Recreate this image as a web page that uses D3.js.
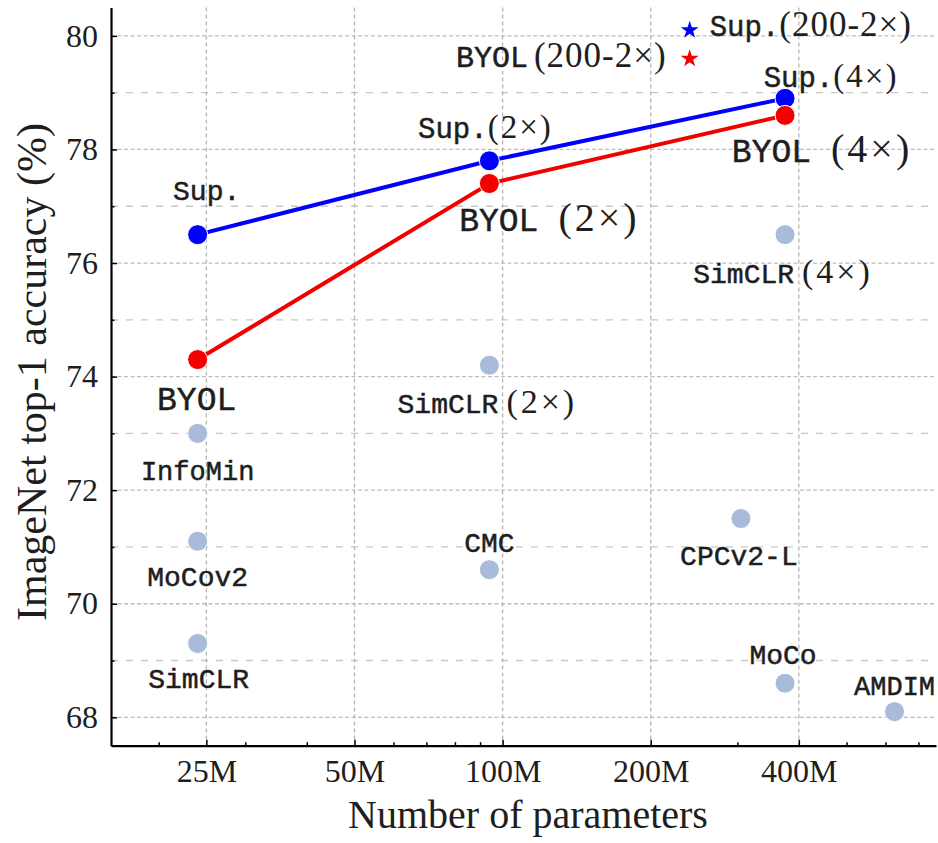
<!DOCTYPE html>
<html>
<head>
<meta charset="utf-8">
<script src="https://cdn.jsdelivr.net/npm/d3@7"></script>
<style>
  html, body { margin: 0; padding: 0; background: #fff; }
  svg { display: block; }
</style>
</head>
<body>
<svg id="chart" width="938" height="843"></svg>
<script>
// ImageNet top-1 accuracy against model size (parameters in millions)

const xTickValues = [25, 50, 100, 200, 400];
const xTickLabels = ["25M", "50M", "100M", "200M", "400M"];
const xMinorTicks = [20, 30, 40, 60, 70, 80, 90, 300, 500, 600, 700];
const yTickValues = [68, 70, 72, 74, 76, 78, 80];
const yMinorTicks = [69, 71, 73, 75, 77, 79];

// Supervised baseline (ResNet-50 1x, 2x, 4x)
const supNames = ["Sup.", "Sup.(2×)", "Sup.(4×)"];
const supParams = [24, 94, 375];
const supAcc = [76.5, 77.8, 78.9];

// BYOL (ResNet-50 1x, 2x, 4x)
const byolNames = ["BYOL", "BYOL (2×)", "BYOL (4×)"];
const byolParams = [24, 94, 375];
const byolAcc = [74.3, 77.4, 78.6];

// Other self-supervised methods
const otherNames = ["SimCLR (4×)", "SimCLR (2×)", "InfoMin", "MoCov2", "SimCLR", "CMC", "CPCv2-L", "MoCo", "AMDIM"];
const otherParams = [375, 94, 24, 24, 24, 94, 305, 375, 626];
const otherAcc = [76.5, 74.2, 73.0, 71.1, 69.3, 70.6, 71.5, 68.6, 68.1];

// ResNet-200 (2x) results, drawn as stars
const wideNames = ["Sup.(200-2×)", "BYOL (200-2×)"];
const wideParams = [240, 240];
const wideAcc = [80.1, 79.6];

// ---- styling / layout ----
const SERIF = "'Liberation Serif', 'Times New Roman', serif";
const MONO = "'Liberation Mono', 'Courier New', monospace";
const BLUE = "#0000ff", RED = "#f20000", GREY = "#a8bcd9";
const TEXT = "#1e1e1e";

// label placement relative to its marker (pixels) and font sizes
const labelLayout = {
  "Sup.":          { dx: 9,   dy: -35, mono: 28 },
  "Sup.(2×)":      { dx: -4,  dy: -23, mono: 29, serif: 33, ls: 2, gap: 0 },
  "Sup.(4×)":      { dx: 46,  dy: -11, mono: 29, serif: 33, ls: 2, gap: 0 },
  "BYOL":          { dx: -1,  dy: 50,  mono: 33 },
  "BYOL (2×)":     { dx: 60,  dy: 47,  mono: 33, serif: 40, ls: 3, gap: 20 },
  "BYOL (4×)":     { dx: 37,  dy: 47,  mono: 33, serif: 40, ls: 3, gap: 20 },
  "SimCLR (4×)":   { dx: -2,  dy: 48,  mono: 28, serif: 34, ls: 3, gap: 8 },
  "SimCLR (2×)":   { dx: -2,  dy: 48,  mono: 28, serif: 34, ls: 3, gap: 8 },
  "InfoMin":       { dx: 0,   dy: 47,  mono: 27 },
  "MoCov2":        { dx: 0,   dy: 45,  mono: 28 },
  "SimCLR":        { dx: 1,   dy: 45,  mono: 28 },
  "CMC":           { dx: 0,   dy: -18, mono: 28 },
  "CPCv2-L":       { dx: -2,  dy: 46,  mono: 28 },
  "MoCo":          { dx: -2,  dy: -19, mono: 28 },
  "AMDIM":         { dx: 0,   dy: -17, mono: 27 },
  "Sup.(200-2×)":  { dx: 20,  dy: 6,   mono: 29, serif: 35, ls: 1, gap: 0, anchor: "start" },
  "BYOL (200-2×)": { dx: -23, dy: 8,   mono: 30, serif: 35, ls: 1, gap: 6, anchor: "end" }
};

const svg = d3.select("#chart");
const plot = { left: 111, right: 936, top: 7.5, bottom: 745.7 };

const x = d3.scaleLog().domain([16, 760]).range([plot.left, plot.right]);
const y = d3.scaleLinear().domain([67.5, 80.5]).range([plot.bottom, plot.top]);

// ---- grid ----
const grid = svg.append("g");
grid.selectAll(".hmajor").data(yTickValues).join("line")
  .attr("x1", plot.left).attr("x2", plot.right)
  .attr("y1", d => y(d)).attr("y2", d => y(d))
  .attr("stroke", "#bdbdbd").attr("stroke-width", 1.3)
  .attr("stroke-dasharray", "4,2.5");
grid.selectAll(".hminor").data(yMinorTicks).join("line")
  .attr("x1", plot.left).attr("x2", plot.right)
  .attr("y1", d => y(d)).attr("y2", d => y(d))
  .attr("stroke", "#c8c8c8").attr("stroke-width", 1.3)
  .attr("stroke-dasharray", "7,8");
grid.selectAll(".vmajor").data(xTickValues).join("line")
  .attr("x1", d => x(d)).attr("x2", d => x(d))
  .attr("y1", plot.top).attr("y2", plot.bottom)
  .attr("stroke", "#b5b5b5").attr("stroke-width", 1.3)
  .attr("stroke-dasharray", "4,3");

// ---- axes ----
function styleAxis(g) {
  g.selectAll(".domain").attr("stroke", "#000").attr("stroke-width", 2.2);
  g.selectAll(".tick line").attr("stroke", "#000").attr("stroke-width", 1.5);
  g.selectAll(".tick text").attr("font-family", SERIF).attr("font-size", 32).attr("fill", TEXT);
}

const yAxis = svg.append("g").attr("transform", `translate(${plot.left},0)`)
  .call(d3.axisLeft(y).tickValues(yTickValues).tickSizeInner(-6).tickSizeOuter(0).tickPadding(13));
styleAxis(yAxis);
const yMinor = svg.append("g").attr("transform", `translate(${plot.left},0)`)
  .call(d3.axisLeft(y).tickValues(yMinorTicks).tickSizeInner(-3.5).tickSizeOuter(0).tickFormat(""));
yMinor.select(".domain").remove();
styleAxis(yMinor);

const xAxis = svg.append("g").attr("transform", `translate(0,${plot.bottom})`)
  .call(d3.axisBottom(x).tickValues(xTickValues).tickFormat((d, i) => xTickLabels[i])
    .tickSizeInner(-6).tickSizeOuter(0).tickPadding(14));
styleAxis(xAxis);
const xMinor = svg.append("g").attr("transform", `translate(0,${plot.bottom})`)
  .call(d3.axisBottom(x).tickValues(xMinorTicks).tickSizeInner(-3.5).tickSizeOuter(0).tickFormat(""));
xMinor.select(".domain").remove();
styleAxis(xMinor);

// axis titles
svg.append("text")
  .attr("x", 528).attr("y", 828)
  .attr("text-anchor", "middle")
  .attr("font-family", SERIF).attr("font-size", 40).attr("fill", TEXT)
  .text("Number of parameters");
svg.append("text")
  .attr("transform", "translate(46,372) rotate(-90)")
  .attr("text-anchor", "middle")
  .attr("font-family", SERIF).attr("font-size", 42).attr("fill", TEXT)
  .text("ImageNet top-1 accuracy (%)");

// ---- data marks ----
const zip = (names, ps, accs) => names.map((n, i) => ({ name: n, p: ps[i], acc: accs[i] }));
const supData = zip(supNames, supParams, supAcc);
const byolData = zip(byolNames, byolParams, byolAcc);
const otherData = zip(otherNames, otherParams, otherAcc);
const wideData = zip(wideNames, wideParams, wideAcc);

const line = d3.line().x(d => x(d.p)).y(d => y(d.acc));

svg.append("g").selectAll("circle").data(otherData).join("circle")
  .attr("cx", d => x(d.p)).attr("cy", d => y(d.acc)).attr("r", 10)
  .attr("fill", GREY).attr("stroke", "#fff").attr("stroke-width", 1);

[[supData, BLUE], [byolData, RED]].forEach(([data, color]) => {
  svg.append("path").datum(data).attr("d", line)
    .attr("fill", "none").attr("stroke", color).attr("stroke-width", 4);
  svg.append("g").selectAll("circle").data(data).join("circle")
    .attr("cx", d => x(d.p)).attr("cy", d => y(d.acc)).attr("r", 10)
    .attr("fill", color).attr("stroke", "#fff").attr("stroke-width", 1);
});

const star = d3.symbol().type(d3.symbolStar).size(100);
svg.append("g").selectAll("path").data(wideData).join("path")
  .attr("transform", d => `translate(${x(d.p)},${y(d.acc)})`)
  .attr("d", star)
  .attr("fill", (d, i) => i === 0 ? BLUE : RED);

// ---- labels: method names in typewriter, width multipliers in serif ----
function drawLabel(d) {
  const L = labelLayout[d.name];
  const m = d.name.match(/^(.*?)\s?(\(.*\))?$/);
  const t = svg.append("text")
    .attr("x", x(d.p) + L.dx).attr("y", y(d.acc) + L.dy)
    .attr("text-anchor", L.anchor || "middle")
    .attr("fill", TEXT);
  t.append("tspan").attr("font-family", MONO).attr("font-size", L.mono)
    .attr("stroke", TEXT).attr("stroke-width", 0.5).text(m[1]);
  if (m[2]) {
    t.append("tspan").attr("dx", L.gap).attr("font-family", SERIF)
      .attr("font-size", L.serif).attr("letter-spacing", L.ls).text(m[2]);
  }
}
[...supData, ...byolData, ...otherData, ...wideData].forEach(drawLabel);
</script>
</body>
</html>
